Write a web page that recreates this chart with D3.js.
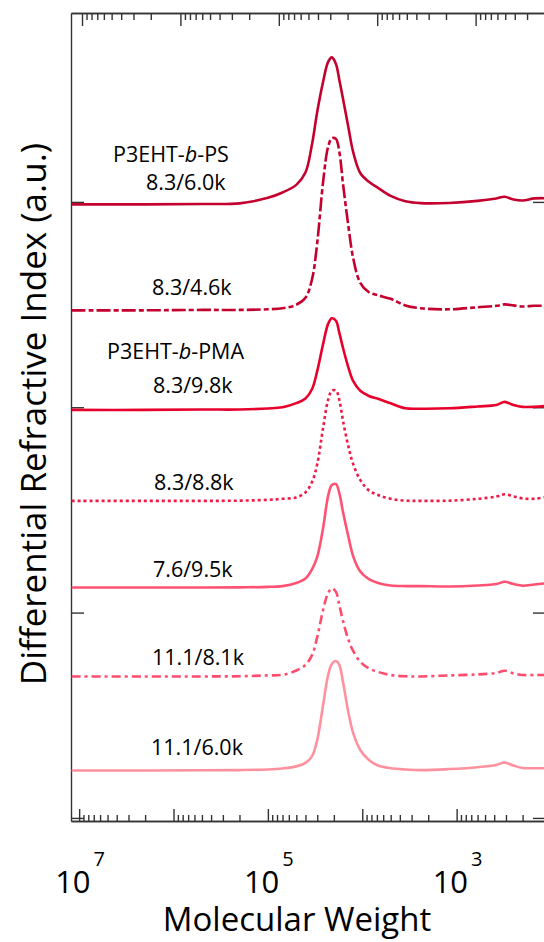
<!DOCTYPE html>
<html>
<head>
<meta charset="utf-8">
<script src="https://cdn.jsdelivr.net/npm/d3@7"></script>
<style>
  body { margin: 0; background: #fff; }
  text { font-family: "Open Sans", "Noto Sans", sans-serif; fill: #000; }
</style>
</head>
<body>
<svg id="chart" width="544" height="942"></svg>
<script>
// molecular weight grid (g/mol)
var molWeight = [1.2e7, 2e6, 5e5, 2e5, 1e5, 7e4, 5e4, 4e4, 3.4e4, 3e4, 2.6e4, 2.3e4, 2.1e4, 1.9e4,
  1.75e4, 1.6e4, 1.4e4, 1.25e4, 1.05e4, 8.5e3, 6.8e3, 5e3, 3.5e3, 2.4e3, 1.2e3, 600, 380, 310, 250, 200, 150, 115];

// vertical offset of each trace (a.u.), top to bottom
var traceOffsets = [2.988, 2.472, 1.987, 1.544, 1.122, 0.689, 0.231];

// detector signal above the offset (a.u.)
var ps60 = [0, 0, .002, .005, .032, .058, .095, .155, .295, .451, .597, .694, .716, .684, .606, .514,
  .373, .256, .153, .110, .080, .041, .015, .006, .007, .017, .029, .037, .024, .019, .029, .030];
var ps46 = [0, 0, .002, .002, .005, .010, .027, .061, .153, .329, .626, .796, .838, .835, .772, .616,
  .407, .256, .134, .088, .073, .056, .024, .010, .005, .015, .022, .029, .024, .019, .022, .022];
var pma98 = [0, 0, .002, .002, .007, .013, .033, .056, .102, .190, .321, .419, .446, .434, .375, .302,
  .205, .141, .093, .068, .054, .032, .008, .006, .008, .017, .024, .039, .024, .015, .015, .019];
var pma88 = [0, 0, 0, .001, .005, .010, .017, .041, .093, .180, .356, .492, .536, .538, .492, .390,
  .263, .180, .102, .051, .029, .010, .001, 0, .001, .010, .021, .032, .022, .012, .010, .018];
var pma95 = [0, 0, 0, .001, .003, .007, .022, .044, .090, .149, .290, .446, .499, .504, .460, .368,
  .246, .153, .078, .041, .022, .010, .007, .007, .005, .010, .017, .028, .017, .009, .015, .020];
var pma81 = [0, 0, 0, .001, .005, .008, .029, .056, .105, .192, .324, .407, .429, .412, .348, .270,
  .178, .124, .071, .039, .022, .007, .001, 0, .005, .010, .017, .028, .015, .007, .007, .007];
var pma60 = [0, 0, .001, .002, .005, .010, .020, .037, .070, .149, .319, .465, .519, .533, .514, .431,
  .280, .183, .100, .051, .024, .011, .005, .002, .007, .016, .027, .039, .024, .012, .011, .011];

var traceSignals = [ps60, ps46, pma98, pma88, pma95, pma81, pma60];
var traceNames = ['8.3/6.0k', '8.3/4.6k', '8.3/9.8k', '8.3/8.8k', '7.6/9.5k', '11.1/8.1k', '11.1/6.0k'];
var yTicks = [0, 1, 2, 3];
var xLabelPowers = [7, 5, 3];

// styles and label placement
var traceColors = ['#c4002f', '#c4002f', '#e8002c', '#ef1a45', '#ff5273', '#ff4b6c', '#ff919f'];
var traceDashes = [null, '14,3,5,3', null, '3,3', null, '9,4,3,4', null];
var nameSpots = [[146, 190], [152, 295], [153, 393], [154, 490], [153, 577], [152, 665], [151, 755]];

var svg = d3.select('#chart');
var plotL = 71, plotR = 546, plotT = 13, plotB = 821;

var x = d3.scaleLog().domain([1.22e7, 113]).range([plotL, plotR]);
var xTop = d3.scaleLog().domain([1.294e7, 192.6]).range([plotL, plotR]);
var y = d3.scaleLinear().domain([-0.015, 3.92]).range([plotB, plotT]);

function isMajor(v) {
  var l = Math.log10(v);
  return Math.abs(l - Math.round(l)) < 1e-6;
}

function addAxis(axis, tx, ty) {
  var g = svg.append('g').attr('transform', 'translate(' + tx + ',' + ty + ')').call(axis);
  g.selectAll('path, line').attr('stroke', '#333').attr('stroke-width', 1.4);
  g.selectAll('text').remove();
  return g;
}

var bTicks = x.ticks();
var tTicks = xTop.ticks();

// bottom axis, ticks pointing up
addAxis(d3.axisTop(x).tickValues(bTicks.filter(isMajor)).tickSizeInner(12).tickSizeOuter(0), 0, plotB);
addAxis(d3.axisTop(x).tickValues(bTicks.filter(function (v) { return !isMajor(v); })).tickSizeInner(6).tickSizeOuter(0), 0, plotB);
// top axis, ticks pointing down
addAxis(d3.axisBottom(xTop).tickValues(tTicks.filter(isMajor)).tickSizeInner(13).tickSizeOuter(0), 0, plotT);
addAxis(d3.axisBottom(xTop).tickValues(tTicks.filter(function (v) { return !isMajor(v); })).tickSizeInner(7).tickSizeOuter(0), 0, plotT);
// left and right, ticks inward
addAxis(d3.axisRight(y).tickValues(yTicks).tickSizeInner(13).tickSizeOuter(0), plotL, 0);
addAxis(d3.axisLeft(y).tickValues(yTicks).tickSizeInner(13).tickSizeOuter(0), plotR, 0);

// traces
var line = d3.line()
  .x(function (d) { return x(d[0]); })
  .y(function (d) { return y(d[1]); })
  .curve(d3.curveCatmullRom.alpha(0.5));

traceSignals.forEach(function (sig, i) {
  var pts = molWeight.map(function (mw, k) { return [mw, traceOffsets[i] + sig[k]]; });
  svg.append('path')
    .attr('d', line(pts))
    .attr('fill', 'none')
    .attr('stroke', traceColors[i])
    .attr('stroke-width', 2.6)
    .attr('stroke-linejoin', 'round')
    .attr('stroke-dasharray', traceDashes[i]);
});

// sample labels
traceNames.forEach(function (name, i) {
  svg.append('text')
    .attr('x', nameSpots[i][0]).attr('y', nameSpots[i][1])
    .attr('font-size', 21.5)
    .text(name);
});

function blockLabel(xp, yp, tail) {
  var t = svg.append('text').attr('x', xp).attr('y', yp).attr('font-size', 21.5);
  t.append('tspan').text('P3EHT-');
  t.append('tspan').attr('font-style', 'italic').text('b');
  t.append('tspan').text(tail);
}
blockLabel(113, 162, '-PS');
blockLabel(107, 359, '-PMA');

// x tick labels 10^n
xLabelPowers.forEach(function (p) {
  var xp = x(Math.pow(10, p));
  var t = svg.append('text').attr('x', xp - 24).attr('y', 893).attr('font-size', 31);
  t.append('tspan').text('10');
  t.append('tspan').attr('dx', 3).attr('dy', -27).attr('font-size', 20).text(p);
});

svg.append('text')
  .attr('x', 297).attr('y', 931)
  .attr('text-anchor', 'middle').attr('font-size', 33)
  .text('Molecular Weight');

svg.append('text')
  .attr('transform', 'translate(46,414) rotate(-90)')
  .attr('text-anchor', 'middle').attr('font-size', 35)
  .text('Differential Refractive Index (a.u.)');
</script>
</body>
</html>
